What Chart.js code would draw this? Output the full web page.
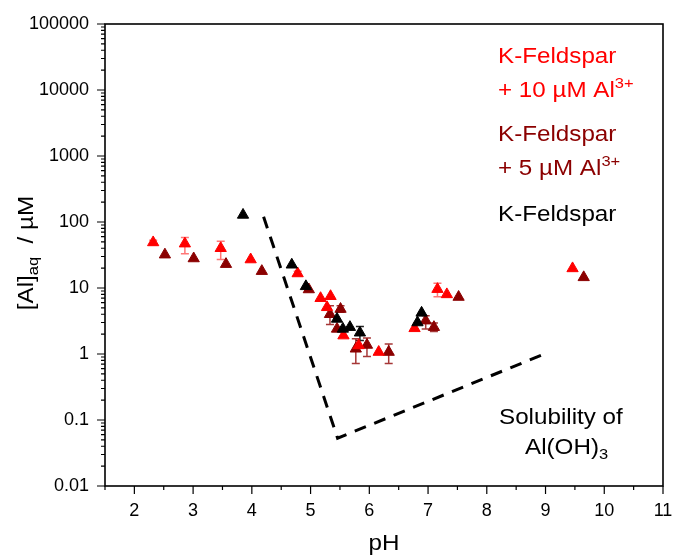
<!doctype html>
<html lang="en">
<head>
<meta charset="utf-8">
<title>Al solubility vs pH</title>
<style>
  * { margin: 0; padding: 0; }
  body { background: #fff; }
  .chartBox { width: 676px; height: 555px; position: relative; }
</style>
</head>
<body>
<div class="chartBox"><canvas id="myChart"></canvas></div>
<script src="https://cdn.jsdelivr.net/npm/chart.js"></script>
<script>
// K-Feldspar + 10 µM Al3+
const phRed    = [2.32, 2.86, 3.47, 3.98, 4.78, 5.17, 5.34, 5.28, 5.56, 5.82, 6.16, 6.77, 7.16, 7.32, 9.46];
const alRed    = [49, 47, 40, 27, 16.6, 7.0, 7.5, 5.1, 1.9, 1.35, 1.07, 2.45, 9.6, 8.0, 19.8];
const errRedLo = [45, 33, 27, null, 15.5, null, null, null, null, null, null, null, 7.4, null, null];
const errRedHi = [53, 58, 51, null, 18, null, null, null, null, null, null, null, 11.8, null, null];

// K-Feldspar + 5 µM Al3+
const phDark    = [2.52, 3.01, 3.56, 4.17, 4.97, 5.33, 5.51, 5.45, 5.77, 5.96, 6.33, 6.96, 7.10, 7.52, 9.65];
const alDark    = [32, 28, 23, 18, 9.5, 4.0, 4.8, 2.4, 1.2, 1.37, 1.07, 3.2, 2.55, 7.3, 14.5];
const errDarkLo = [null, null, null, null, null, 2.8, 4.3, null, 0.72, 0.92, 0.72, 2.4, 2.2, null, null];
const errDarkHi = [null, null, null, null, null, 5.4, 5.4, null, 1.7, 1.75, 1.42, 3.8, 2.95, null, null];

// K-Feldspar
const phBlack    = [3.85, 4.68, 4.92, 5.45, 5.55, 5.67, 5.84, 6.82, 6.89];
const alBlack    = [128, 22.5, 10.6, 3.4, 2.4, 2.55, 2.1, 3.0, 4.2];
const errBlackLo = [null, null, null, null, null, null, 1.6, null, null];
const errBlackHi = [null, null, null, null, null, null, 2.6, null, null];

// solubility of Al(OH)3
const phSol = [4.2, 5.46, 8.98];
const alSol = [120, 0.053, 1.0];

const xTicks = [2, 3, 4, 5, 6, 7, 8, 9, 10, 11];
const yTicks = [0.01, 0.1, 1, 10, 100, 1000, 10000, 100000];
const yTickLabels = ['0.01', '0.1', '1', '10', '100', '1000', '10000', '100000'];

const FONT = '"Liberation Sans", Arial, sans-serif';
const RED = '#ff0000', DARK = '#8b0000', BLACK = '#000000';

function pts(xs, ys) { return xs.map((v, i) => ({ x: v, y: ys[i] })); }

function scatterSet(xs, ys, lo, hi, color, barColor, order) {
  return {
    data: pts(xs, ys),
    errLo: lo, errHi: hi, barColor: barColor,
    pointStyle: 'triangle',
    pointRadius: 6.5,
    backgroundColor: color,
    borderColor: color,
    borderWidth: 1,
    showLine: false,
    order: order
  };
}

const data = {
  datasets: [
    scatterSet(phBlack, alBlack, errBlackLo, errBlackHi, BLACK, '#222', 0),
    scatterSet(phRed, alRed, errRedLo, errRedHi, RED, 'rgba(255,60,60,0.7)', 1),
    scatterSet(phDark, alDark, errDarkLo, errDarkHi, DARK, 'rgba(150,20,20,0.85)', 2),
    {
      data: pts(phSol, alSol),
      showLine: true,
      borderColor: '#000',
      borderWidth: 3,
      borderDash: [12, 9],
      pointRadius: 0,
      fill: false,
      order: 3
    }
  ]
};

// error bars, under the markers
const errorBars = {
  id: 'errorBars',
  beforeDatasetsDraw(chart) {
    const { ctx, scales: { x, y } } = chart;
    ctx.save();
    ctx.lineWidth = 1.5;
    chart.data.datasets.forEach(ds => {
      if (!ds.errLo) return;
      ctx.strokeStyle = ds.barColor;
      ds.data.forEach((p, i) => {
        if (ds.errLo[i] == null) return;
        const px = x.getPixelForValue(p.x);
        const y1 = y.getPixelForValue(ds.errLo[i]);
        const y2 = y.getPixelForValue(ds.errHi[i]);
        ctx.beginPath();
        ctx.moveTo(px, y1); ctx.lineTo(px, y2);
        ctx.moveTo(px - 4, y1); ctx.lineTo(px + 4, y1);
        ctx.moveTo(px - 4, y2); ctx.lineTo(px + 4, y2);
        ctx.stroke();
      });
    });
    ctx.restore();
  }
};

// frame + major/minor ticks
const frame = {
  id: 'frame',
  afterDraw(chart) {
    const { ctx, chartArea: a, scales: { x, y } } = chart;
    ctx.save();
    ctx.strokeStyle = '#000';
    ctx.lineWidth = 1.6;
    ctx.strokeRect(a.left, a.top, a.right - a.left, a.bottom - a.top);
    ctx.lineWidth = 1.2;
    ctx.beginPath();
    for (let e = -2; e <= 5; e++) {
      for (let m = 1; m <= 9; m++) {
        const v = m * Math.pow(10, e);
        if (v > 100000) break;
        const py = y.getPixelForValue(v);
        const len = m === 1 ? 8 : 4;
        ctx.moveTo(a.left - len, py); ctx.lineTo(a.left, py);
      }
    }
    for (let v = 1.5; v <= 11; v += 0.5) {
      const px = x.getPixelForValue(v);
      const len = Number.isInteger(v) ? 8 : 4;
      ctx.moveTo(px, a.bottom); ctx.lineTo(px, a.bottom + len);
    }
    ctx.stroke();
    ctx.restore();
  }
};

function rich(ctx, parts) {
  let cx = 0;
  parts.forEach(p => {
    ctx.font = p[1] + 'px ' + FONT;
    ctx.fillText(p[0], cx, p[2] || 0);
    cx += ctx.measureText(p[0]).width;
  });
  return cx;
}
function richWidth(ctx, parts) {
  let w = 0;
  parts.forEach(p => { ctx.font = p[1] + 'px ' + FONT; w += ctx.measureText(p[0]).width; });
  return w;
}
function note(ctx, x, y, color, parts) {
  ctx.save();
  ctx.translate(x, y);
  ctx.scale(1.1, 1);
  ctx.fillStyle = color;
  ctx.textAlign = 'left';
  ctx.textBaseline = 'alphabetic';
  rich(ctx, parts);
  ctx.restore();
}

const labels = {
  id: 'labels',
  afterDraw(chart) {
    const ctx = chart.ctx;
    note(ctx, 498, 63, RED, [['K-Feldspar', 22]]);
    note(ctx, 498, 97, RED, [['+ 10 µM Al', 22], ['3+', 15, -9]]);
    note(ctx, 498, 141, DARK, [['K-Feldspar', 22]]);
    note(ctx, 498, 175, DARK, [['+ 5 µM Al', 22], ['3+', 15, -9]]);
    note(ctx, 498, 221, BLACK, [['K-Feldspar', 22]]);
    note(ctx, 499, 424, BLACK, [['Solubility of', 22]]);
    note(ctx, 525, 454, BLACK, [['Al(OH)', 22], ['3', 15, 5]]);

    // axis titles
    const pH = [['pH', 22]];
    ctx.save();
    const wpH = richWidth(ctx, pH) * 1.1;
    note(ctx, 384 - wpH / 2, 550, BLACK, pH);
    const yt = [['[Al]', 22], ['aq', 15, 5], ['  / µM', 22]];
    const wy = richWidth(ctx, yt);
    ctx.translate(33, 253);
    ctx.rotate(-Math.PI / 2);
    ctx.scale(1.1, 1);
    ctx.fillStyle = BLACK;
    ctx.textBaseline = 'alphabetic';
    ctx.translate(-wy / 2, 0);
    rich(ctx, yt);
    ctx.restore();
  }
};

const config = {
  type: 'scatter',
  data,
  options: {
    responsive: true,
    maintainAspectRatio: false,
    animation: false,
    layout: { padding: { top: 24, right: 13, left: 0, bottom: 0 } },
    plugins: { legend: { display: false }, tooltip: { enabled: false } },
    scales: {
      x: {
        type: 'linear',
        min: 1.5,
        max: 11,
        afterBuildTicks: s => { s.ticks = xTicks.map(v => ({ value: v })); },
        afterFit: s => { s.height = 69; s.paddingLeft = 0; s.paddingRight = 0; },
        grid: { display: false, drawTicks: false },
        border: { display: false },
        ticks: { color: '#000', font: { family: FONT, size: 18 }, padding: 14, maxRotation: 0, autoSkip: false }
      },
      y: {
        type: 'logarithmic',
        min: 0.01,
        max: 100000,
        afterBuildTicks: s => { s.ticks = yTicks.map(v => ({ value: v })); },
        afterFit: s => { s.width = 105; s.paddingTop = 0; s.paddingBottom = 0; },
        grid: { display: false, drawTicks: false },
        border: { display: false },
        ticks: {
          color: '#000', font: { family: FONT, size: 18 }, padding: 16, autoSkip: false,
          callback: (v, i) => yTickLabels[i]
        }
      }
    }
  },
  plugins: [errorBars, frame, labels]
};

const ctx = document.getElementById('myChart');
const myChart = new Chart(ctx, config);
</script>
</body>
</html>
